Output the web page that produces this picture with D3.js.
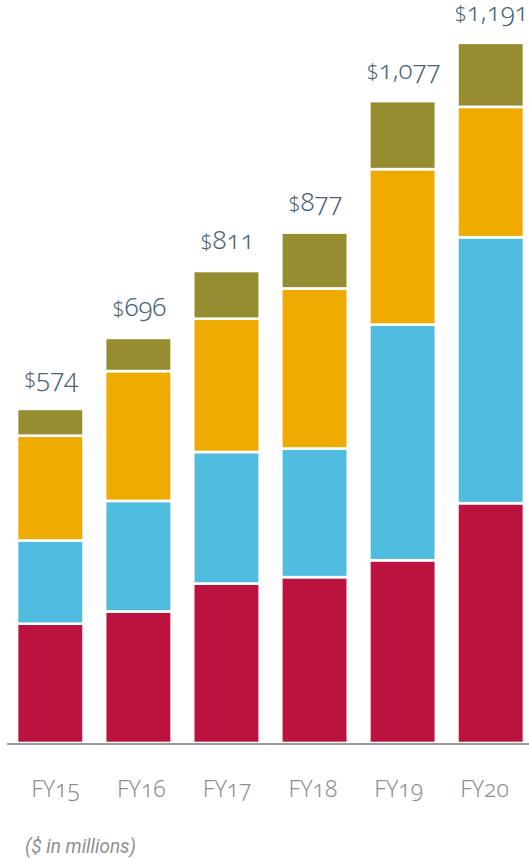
<!DOCTYPE html>
<html>
<head>
<meta charset="utf-8">
<script src="https://cdn.jsdelivr.net/npm/d3@7"></script>
<style>
  html, body { margin: 0; padding: 0; background: #fff; }
  svg { display: block; }
  .total { font-family: "Noto Sans", "Open Sans", sans-serif; font-weight: 300; fill: #4b6479; font-feature-settings: "onum" 1; font-variant-numeric: oldstyle-nums; }
  .axis text { font-family: "Noto Sans", "Open Sans", sans-serif; font-weight: 300; fill: #8f8f8f; font-feature-settings: "onum" 1; font-variant-numeric: oldstyle-nums; }
  .note { font-family: "Roboto", "Noto Sans", sans-serif; font-weight: 400; font-style: italic; fill: #8f8f8f; }
</style>
</head>
<body>
<div id="chart"></div>
<script>
// ---- data (values in $ millions) ----
const categories = ["FY15", "FY16", "FY17", "FY18", "FY19", "FY20"];
const seriesNames = ["s1", "s2", "s3", "s4"];
const s1 = [205, 226, 274, 285, 314, 412];   // crimson (bottom)
const s2 = [143, 190, 226, 221, 405, 457];   // sky blue
const s3 = [180, 223, 229, 275, 267, 224];   // amber
const s4 = [46, 57, 82, 96, 117, 110];       // olive (top)
const totals = [574, 696, 811, 877, 1077, 1191];
const colors = ["#BA1340", "#50BCE0", "#EFAB00", "#958D2F"];

const W = 529, H = 859;
const svg = d3.select("#chart").append("svg").attr("width", W).attr("height", H);

const rows = categories.map((c, i) => ({ cat: c, s1: s1[i], s2: s2[i], s3: s3[i], s4: s4[i], total: totals[i] }));
const stacked = d3.stack().keys(seriesNames)(rows);

const x = d3.scaleBand().domain(categories).range([5.6, 535.4]).paddingInner(0.245).paddingOuter(0.13);
const y = d3.scaleLinear().domain([0, 1200]).range([743, 44.6]);
const color = d3.scaleOrdinal().domain(seriesNames).range(colors);

svg.append("g").selectAll("g").data(stacked).join("g")
  .attr("fill", d => color(d.key))
  .selectAll("rect").data(d => d).join("rect")
  .attr("x", d => x(d.data.cat))
  .attr("width", x.bandwidth())
  .attr("y", d => y(d[1]))
  .attr("height", d => y(d[0]) - y(d[1]))
  .attr("stroke", "#fff")
  .attr("stroke-width", 2.6);

// baseline
svg.append("line")
  .attr("x1", 7).attr("x2", W)
  .attr("y1", y(0) + 1).attr("y2", y(0) + 1)
  .attr("stroke", "#9b9b9b").attr("stroke-width", 2.2);

// totals
const topLayer = stacked[stacked.length - 1];
const fmt = d3.format(",");
const tl = svg.append("g").selectAll("text").data(topLayer).join("text")
  .attr("class", "total")
  .attr("x", d => x(d.data.cat) + x.bandwidth() / 2 + 1)
  .attr("y", d => y(d[1]) - 22)
  .attr("text-anchor", "middle");
tl.append("tspan").attr("font-size", 21).text("$");
tl.append("tspan").attr("font-size", 26).text(d => fmt(d.data.total));

// category axis
const xa = d3.scalePoint().domain(categories).range([55, 484]);
const axis = svg.append("g").attr("class", "axis")
  .attr("transform", `translate(0, ${y(0)})`)
  .call(d3.axisBottom(xa).tickSize(0).tickPadding(0));
axis.select(".domain").remove();
axis.selectAll("text").attr("font-size", 23).attr("dy", 0).attr("y", 54);

svg.append("text").attr("class", "note")
  .attr("x", 25).attr("y", 853)
  .attr("font-size", 20)
  .attr("textLength", 111)
  .attr("lengthAdjust", "spacingAndGlyphs")
  .text("($ in millions)");
</script>
</body>
</html>
